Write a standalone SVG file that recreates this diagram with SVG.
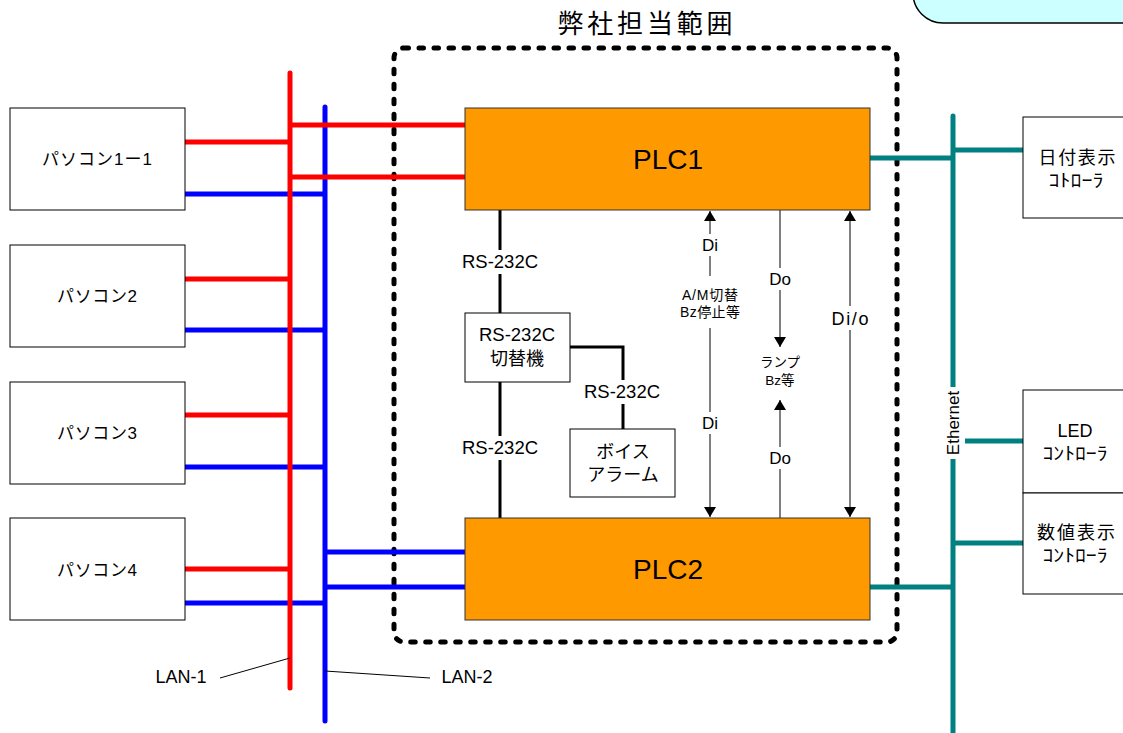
<svg xmlns="http://www.w3.org/2000/svg" width="1123" height="733" viewBox="0 0 1123 733">
<defs>
<style>
.t{font-family:"Liberation Sans","Noto Sans CJK JP",sans-serif;fill:#000;text-anchor:middle}
.box{fill:#fff;stroke:#000;stroke-width:1}
.plc{fill:#FF9900;stroke:#333;stroke-width:1}
.red{stroke:#FF0000;stroke-width:5;fill:none}
.blue{stroke:#0000FF;stroke-width:5;fill:none}
.teal{stroke:#008080;stroke-width:5;fill:none}
.thin{stroke:#000;stroke-width:1;fill:none}
.thick{stroke:#000;stroke-width:3;fill:none}
.wb{fill:#fff}
</style>
<marker id="ah" viewBox="0 0 10 12" refX="10" refY="6" markerWidth="10" markerHeight="12" markerUnits="userSpaceOnUse" orient="auto">
<path d="M0,0 L10,6 L0,12 Z" fill="#000"/>
</marker>
<marker id="ahs" viewBox="0 0 10 12" refX="0" refY="6" markerWidth="10" markerHeight="12" markerUnits="userSpaceOnUse" orient="auto">
<path d="M10,0 L0,6 L10,12 Z" fill="#000"/>
</marker>
</defs>
<rect width="1123" height="733" fill="#fff"/>

<path id="cyanbox" d="M943,-10 H1140 V23 H943 A30,30 0 0 1 913,-7 V-10 Z" fill="#CCFFFF" stroke="#000" stroke-width="1.5"/>

<text class="t" x="645" y="33" font-size="26" textLength="175">弊社担当範囲</text>

<rect id="scope" x="394" y="48" width="503" height="594" rx="10" fill="none" stroke="#000" stroke-width="5" stroke-dasharray="4.5 10.5" stroke-linecap="round"/>

<g id="connectors">
<line class="blue" x1="185" y1="194" x2="325" y2="194"/>
<line class="blue" x1="185" y1="330" x2="325" y2="330"/>
<line class="blue" x1="185" y1="467" x2="325" y2="467"/>
<line class="blue" x1="185" y1="603" x2="325" y2="603"/>
<line class="blue" x1="325" y1="552" x2="465" y2="552"/>
<line class="blue" x1="325" y1="587" x2="465" y2="587"/>
<line class="blue" x1="325" y1="107" x2="325" y2="721" stroke-linecap="round"/>
<line class="red" x1="290" y1="73" x2="290" y2="688" stroke-linecap="round"/>
<line class="red" x1="185" y1="142" x2="290" y2="142"/>
<line class="red" x1="185" y1="279" x2="290" y2="279"/>
<line class="red" x1="185" y1="415" x2="290" y2="415"/>
<line class="red" x1="185" y1="569" x2="290" y2="569"/>
<line class="red" x1="290" y1="125" x2="465" y2="125"/>
<line class="red" x1="290" y1="177" x2="465" y2="177"/>
<line class="teal" x1="953" y1="116" x2="953" y2="733" stroke-linecap="round"/>
<line class="teal" x1="870" y1="158" x2="953" y2="158"/>
<line class="teal" x1="870" y1="587" x2="953" y2="587"/>
<line class="teal" x1="953" y1="150" x2="1023" y2="150"/>
<line class="teal" x1="965" y1="441" x2="1023" y2="441"/>
<line class="teal" x1="953" y1="543" x2="1023" y2="543"/>
<rect class="wb" x="944" y="387" width="19" height="72"/>
<text class="t" font-size="17" transform="translate(959,423) rotate(-90)">Ethernet</text>
<line class="thin" x1="220" y1="678" x2="290" y2="658"/>
<line class="thin" x1="325" y1="671" x2="430" y2="678"/>
<text class="t" x="181" y="683" font-size="18">LAN-1</text>
<text class="t" x="467" y="683" font-size="18">LAN-2</text>
<line class="thick" x1="500" y1="210" x2="500" y2="313"/>
<line class="thick" x1="500" y1="382" x2="500" y2="518"/>
<polyline class="thick" points="570,347 623,347 623,429"/>
<rect class="wb" x="460" y="250" width="82" height="24"/>
<text class="t" x="500" y="268" font-size="18.5">RS-232C</text>
<rect class="wb" x="460" y="436" width="82" height="24"/>
<text class="t" x="500" y="454" font-size="18.5">RS-232C</text>
<rect class="wb" x="581" y="380" width="84" height="24"/>
<text class="t" x="622" y="398" font-size="18.5">RS-232C</text>
<line class="thin" x1="710" y1="211" x2="710" y2="517" marker-start="url(#ahs)" marker-end="url(#ah)"/>
<rect class="wb" x="698" y="234" width="24" height="22"/>
<text class="t" x="710" y="251" font-size="17">Di</text>
<rect class="wb" x="672" y="276" width="76" height="52"/>
<text class="t" x="710" y="300" font-size="14" textLength="56">A/M切替</text>
<text class="t" x="710" y="317" font-size="14" textLength="60">Bz停止等</text>
<rect class="wb" x="698" y="412" width="24" height="22"/>
<text class="t" x="710" y="429" font-size="17">Di</text>
<line class="thin" x1="780" y1="210" x2="780" y2="347" marker-end="url(#ah)"/>
<rect class="wb" x="766" y="268" width="28" height="22"/>
<text class="t" x="780" y="285" font-size="17">Do</text>
<text class="t" x="780" y="367" font-size="13.5">ランプ</text>
<text class="t" x="780" y="385" font-size="13.5">Bz等</text>
<line class="thin" x1="780" y1="518" x2="780" y2="400" marker-end="url(#ah)"/>
<rect class="wb" x="766" y="447" width="28" height="22"/>
<text class="t" x="780" y="464" font-size="17">Do</text>
<line class="thin" x1="850" y1="211" x2="850" y2="517" marker-start="url(#ahs)" marker-end="url(#ah)"/>
<rect class="wb" x="830" y="306" width="40" height="24"/>
<text class="t" x="850" y="325" font-size="18" textLength="37">Di/o</text>
</g>

<g id="pc1"><rect class="box" x="10" y="108" width="175" height="102"/><text class="t" x="97" y="165" font-size="17" textLength="110">パソコン1ー1</text></g>
<g id="pc2"><rect class="box" x="10" y="245" width="175" height="102"/><text class="t" x="97" y="302" font-size="17" textLength="80">パソコン2</text></g>
<g id="pc3"><rect class="box" x="10" y="382" width="175" height="102"/><text class="t" x="97" y="439" font-size="17" textLength="80">パソコン3</text></g>
<g id="pc4"><rect class="box" x="10" y="518" width="175" height="102"/><text class="t" x="97" y="576" font-size="17" textLength="80">パソコン4</text></g>

<g id="plc1"><rect class="plc" x="465" y="108" width="405" height="102"/><text class="t" x="668" y="169" font-size="28">PLC1</text></g>
<g id="plc2"><rect class="plc" x="465" y="518" width="405" height="102"/><text class="t" x="668" y="579" font-size="28">PLC2</text></g>

<g id="switch"><rect class="box" x="465" y="313" width="105" height="69"/><text class="t" x="517" y="341" font-size="18.5">RS-232C</text><text class="t" x="517" y="365" font-size="18">切替機</text></g>
<g id="voice"><rect class="box" x="570" y="429" width="105" height="68"/><text class="t" x="623" y="458" font-size="18">ボイス</text><text class="t" x="623" y="481" font-size="18">アラーム</text></g>

<g id="date"><rect class="box" x="1023" y="117" width="110" height="101"/><text class="t" x="1077" y="164" font-size="18" textLength="77">日付表示</text><text class="t" x="1076" y="187" font-size="18" textLength="55" lengthAdjust="spacingAndGlyphs">ｺﾄﾛｰﾗ</text></g>
<g id="led"><rect class="box" x="1023" y="390" width="110" height="103"/><text class="t" x="1075" y="437" font-size="18">LED</text><text class="t" x="1075" y="460" font-size="18" textLength="65" lengthAdjust="spacingAndGlyphs">ｺﾝﾄﾛｰﾗ</text></g>
<g id="num"><rect class="box" x="1023" y="493" width="110" height="101"/><text class="t" x="1076" y="539" font-size="18" textLength="78">数値表示</text><text class="t" x="1075" y="562" font-size="18" textLength="65" lengthAdjust="spacingAndGlyphs">ｺﾝﾄﾛｰﾗ</text></g>
</svg>
